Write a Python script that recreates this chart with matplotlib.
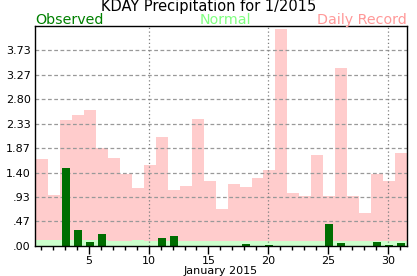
import matplotlib.pyplot as plt
import numpy as np

# KDAY precipitation, January 2015 (inches)
days = list(range(1, 32))

observed = [0, 0, 1.49, 0.30, 0.08, 0.23, 0, 0, 0, 0,
            0.16, 0.18, 0, 0, 0, 0, 0, 0.04, 0, 0.02,
            0, 0, 0, 0, 0.41, 0.06, 0, 0, 0.08, 0.02, 0.06]

normal = [0.12, 0.12, 0.12, 0.12, 0.12, 0.12, 0.10, 0.10, 0.12, 0.10,
          0.10, 0.10, 0.10, 0.10, 0.10, 0.10, 0.10, 0.10, 0.10, 0.10,
          0.10, 0.10, 0.10, 0.10, 0.10, 0.10, 0.10, 0.10, 0.10, 0.10, 0.10]

record = [1.66, 0.98, 2.40, 2.50, 2.59, 1.87, 1.68, 1.37, 1.10, 1.54,
          2.08, 1.07, 1.15, 2.42, 1.24, 0.71, 1.18, 1.13, 1.30, 1.45,
          4.15, 1.01, 0.96, 1.73, 0.96, 3.39, 0.96, 0.62, 1.37, 1.24, 1.77]

ymax = 4.2
shift = 0.1  # bars sit a bit right of the day ticks in the original

fig = plt.figure(figsize=(4.17, 2.76), dpi=100)
ax = fig.add_axes([0.084, 0.109, 0.892, 0.797])

x = np.array(days) + shift
ax.bar(x, record, width=1.0, color='#ffcccc', zorder=1)
ax.bar(x, normal, width=1.0, color='#ccffcc', zorder=2)
ax.bar(x, observed, width=0.67, color='#006d00', zorder=4)

# grid
yt = [ymax * i / 9 for i in range(9)]
for v in yt[1:]:
    ax.axhline(v, color='#999999', linestyle=(0, (3, 2)), linewidth=0.9, zorder=3)
for d in [10, 20, 30]:
    ax.axvline(d, color='#808080', linestyle=(0, (1, 2)), linewidth=0.9, zorder=3)

ax.set_xlim(0.5, 31.6)
ax.set_ylim(0, ymax)

ax.set_yticks(yt)
ax.set_yticklabels([("%.2f" % v).lstrip('0') if v < 1 else "%.2f" % v for v in yt])
ax.tick_params(axis='y', length=0, labelsize=8, pad=3)

ax.set_xticks([5, 10, 15, 20, 25, 30])
ax.set_xticks(days, minor=True)
ax.tick_params(axis='x', which='major', direction='out', length=6, width=1, labelsize=8, pad=1)
ax.tick_params(axis='x', which='minor', direction='out', length=3, width=1)
ax.set_xlabel("January 2015", fontsize=8, labelpad=0)

for s in ax.spines.values():
    s.set_linewidth(1)
    s.set_zorder(5)

fig.text(0.5, 0.960, "KDAY Precipitation for 1/2015", ha='center', va='baseline', fontsize=10.5)
fig.text(0.084, 0.913, "Observed", ha='left', va='baseline', fontsize=10.3, color='#008000')
fig.text(0.54, 0.913, "Normal", ha='center', va='baseline', fontsize=10.3, color='#80ff80')
fig.text(0.976, 0.913, "Daily Record", ha='right', va='baseline', fontsize=10.3, color='#ff9999')

fig.savefig("out.png", dpi=100)
